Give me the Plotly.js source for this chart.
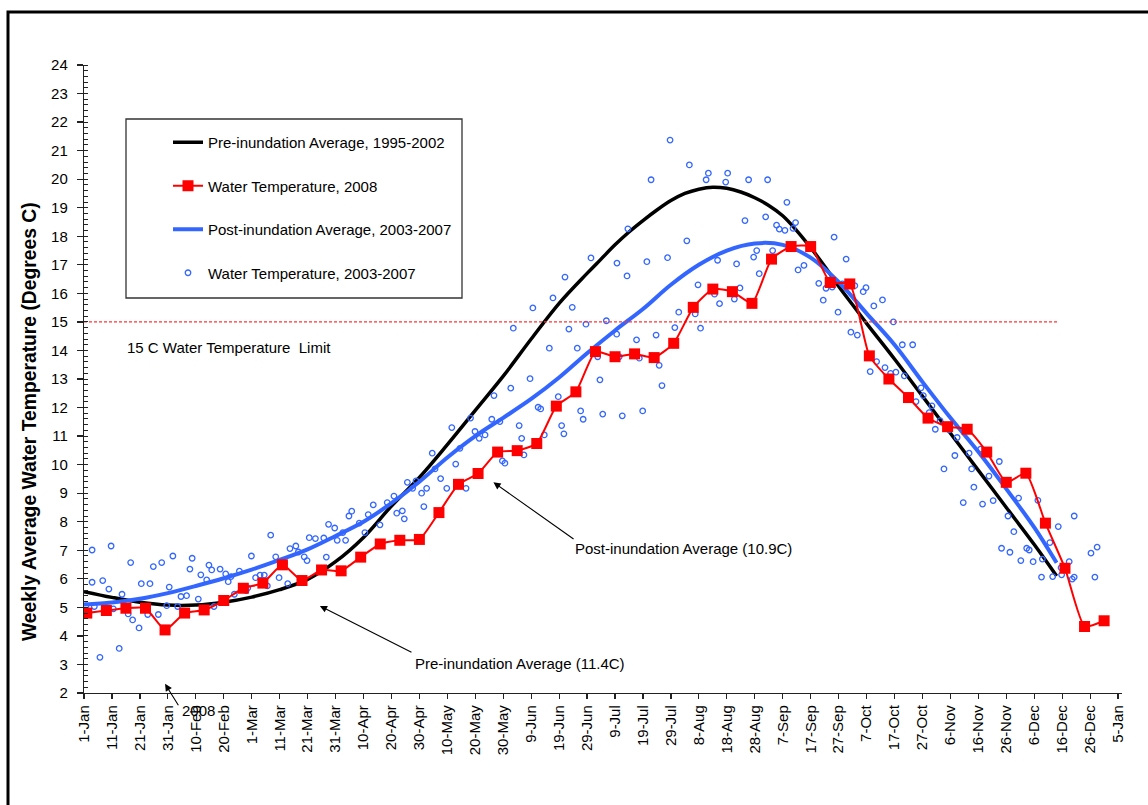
<!DOCTYPE html>
<html><head><meta charset="utf-8">
<script src="https://cdn.plot.ly/plotly-3.0.1.min.js"></script>
<style>html,body{margin:0;padding:0;background:#fff;} #chart{width:1148px;height:805px;}</style>
</head><body><div id="chart"></div>
<script>
// x values are days since 1-Jan-2008
const tickDays = [0,10,20,30,40,50,60,70,80,90,100,110,120,130,140,150,160,170,180,190,200,210,220,230,240,250,260,270,280,290,300,310,320,330,340,350,360,370];
const tickLabels = ['1-Jan','11-Jan','21-Jan','31-Jan','10-Feb','20-Feb','1-Mar','11-Mar','21-Mar','31-Mar','10-Apr','20-Apr','30-Apr','10-May','20-May','30-May','9-Jun','19-Jun','29-Jun','9-Jul','19-Jul','29-Jul','8-Aug','18-Aug','28-Aug','7-Sep','17-Sep','27-Sep','7-Oct','17-Oct','27-Oct','6-Nov','16-Nov','26-Nov','6-Dec','16-Dec','26-Dec','5-Jan'];

const preDays = [0,10,20,30,40,50,60,70,80,90,100,110,120,130,140,150,160,170,180,185,190,195,200,205,210,215,220,225,230,235,240,245,250,255,260,265,270,275,280,290,300,310,320,330,340,348];
const preTemp = [5.55,5.35,5.18,5.08,5.08,5.18,5.36,5.62,5.98,6.6,7.45,8.55,9.55,10.7,11.9,13.1,14.4,15.65,16.7,17.2,17.7,18.15,18.55,18.92,19.25,19.5,19.65,19.72,19.68,19.55,19.35,19.08,18.72,18.2,17.6,16.95,16.25,15.6,14.95,13.7,12.4,11.1,9.8,8.5,7.2,6.1];

const postDays = [0,10,20,30,40,50,60,70,80,90,100,110,120,130,140,150,160,170,180,190,200,210,220,230,240,250,260,270,280,290,300,310,320,330,340,348];
const postTemp = [5.1,5.17,5.3,5.5,5.75,6.02,6.32,6.66,7.03,7.5,8.0,8.65,9.4,10.25,11.0,11.64,12.3,13.05,13.9,14.7,15.45,16.3,17.0,17.5,17.75,17.7,17.25,16.4,15.3,14.2,12.9,11.64,10.45,9.15,7.8,6.56];

const wt2008Days = [1,8,15,22,29,36,43,50,57,64,71,78,85,92,99,106,113,120,127,134,141,148,155,162,169,176,183,190,197,204,211,218,225,232,239,246,253,260,267,274,281,288,295,302,309,316,323,330,337,344,351,358,365];
const wt2008Temp = [4.80,4.89,4.97,4.97,4.21,4.80,4.91,5.24,5.67,5.85,6.49,5.94,6.31,6.28,6.76,7.22,7.35,7.38,8.32,9.31,9.69,10.44,10.49,10.74,12.05,12.55,13.96,13.78,13.88,13.75,14.25,15.51,16.15,16.06,15.65,17.2,17.64,17.64,16.38,16.33,13.81,13.0,12.35,11.63,11.33,11.24,10.44,9.38,9.70,7.95,6.37,4.33,4.53];

const obsDays = [2.9,2.9,0.7,3.7,5.7,6.7,8.9,9.7,10.5,12.6,13.6,15.8,16.7,17.4,19.7,20.5,22.8,23.6,24.8,26.6,27.8,29.6,30.5,31.8,33.5,34.7,36.7,37.9,38.7,40.9,41.8,43.9,44.7,45.7,46.5,48.7,50.7,51.6,52.6,53.8,55.6,58.0,58.6,59.9,61.4,63.0,64.5,65.6,66.8,68.6,69.8,71.7,72.9,73.7,75.8,76.7,78.8,79.8,80.6,82.8,85.8,86.7,87.5,89.7,90.6,92.6,93.6,94.8,95.8,98.5,100.5,101.7,103.5,105.9,
108.5,110.9,111.9,113.9,114.6,115.7,117.6,118.8,120.8,121.6,122.6,124.6,125.6,127.6,129.8,131.6,133.0,134.5,136.7,138.3,139.9,141.4,143.5,145.9,146.7,148.8,149.7,150.6,152.7,153.6,155.7,156.6,157.4,159.6,160.6,162.5,163.4,164.7,166.5,167.8,169.7,170.9,171.7,172.1,173.5,174.7,176.5,177.7,178.6,179.6,181.4,183.8,184.6,185.6,186.9,190.6,190.7,191.5,192.6,194.3,194.6,197.7,198.7,199.9,204.7,205.8,206.8,
209.7,202.9,216.6,223.4,222.6,230.3,229.6,237.8,244.6,251.5,201.4,208.8,215.7,236.5,243.9,247.8,248.8,250.8,253.7,254.6,226.7,233.5,239.6,240.7,246.4,241.6,225.6,219.7,212.8,218.7,220.6,211.4,227.4,232.7,234.7,255.5,257.6,262.9,264.5,265.5,267.7,268.4,269.8,271.4,272.7,274.4,275.8,276.7,278.8,279.8,282.6,285.7,
289.6,283.6,281.3,286.6,288.6,290.5,292.8,296.5,293.5,299.5,297.7,300.3,302.4,303.4,304.6,306.3,309.6,307.7,311.6,312.4,316.7,317.6,318.4,314.6,321.5,320.8,323.8,325.3,327.5,330.6,332.7,334.4,341.3,328.3,331.3,335.2,337.3,338.2,339.6,342.6,342.9,345.6,346.6,348.6,349.6,349.8,352.5,353.6,354.3,354.3,360.3,361.7,362.5];
const obsTemp = [7.01,5.88,5.05,5.03,3.25,5.94,5.64,7.15,4.95,3.56,5.46,4.77,6.57,4.56,4.28,5.83,4.75,5.83,6.43,4.75,6.57,5.06,5.71,6.8,5.03,5.38,5.41,6.34,6.72,5.29,6.14,5.96,6.48,6.31,5.03,6.34,6.17,5.9,6.08,5.46,6.27,5.59,5.68,6.8,6.04,6.13,6.13,5.75,7.53,6.77,6.04,6.55,5.83,7.06,7.15,6.94,6.77,6.64,7.44,7.41,7.43,6.76,7.91,7.78,7.35,7.62,7.35,8.2,8.37,7.95,7.62,8.25,8.59,7.89,
8.67,8.9,8.3,8.38,8.1,9.38,9.17,9.43,9.0,8.53,9.17,10.4,9.85,9.51,9.17,11.3,10.02,10.57,9.17,11.63,11.16,10.92,11.04,11.59,12.42,11.51,10.13,10.05,12.68,14.78,11.37,10.92,10.34,13.01,15.49,12.01,11.95,11.04,14.08,15.84,12.38,11.37,11.08,16.57,14.75,15.51,14.08,11.88,11.59,14.92,17.24,13.78,12.97,11.77,15.04,14.57,17.06,13.78,11.71,16.61,18.26,14.37,13.73,11.88,14.54,13.48,12.77,
21.37,19.98,20.5,20.21,19.98,20.21,19.9,19.98,19.98,19.19,17.11,17.25,17.84,18.55,18.68,18.39,18.25,18.21,18.28,18.48,17.16,17.03,17.27,17.5,17.5,16.69,15.97,16.3,15.34,15.28,14.78,14.8,15.64,15.8,16.19,16.82,16.98,16.35,15.76,16.18,16.22,17.97,15.34,16.33,17.2,14.64,16.27,14.54,16.06,16.2,15.56,15.77,
15.0,13.61,13.26,13.4,13.2,13.24,14.2,14.2,13.11,12.69,12.21,12.42,11.82,12.06,11.24,11.54,11.22,9.85,10.32,10.95,10.4,9.85,9.21,8.67,8.62,10.54,9.6,8.74,10.11,8.2,7.65,8.83,8.75,7.07,6.93,6.64,7.07,7.01,6.6,6.06,6.69,7.27,6.08,7.83,6.39,6.14,6.6,5.99,6.06,8.2,6.9,6.06,7.11];

const limitDays = [0, 348.5];
const limitTemp = [15, 15];

const FONT = 'Liberation Sans, Arial, Helvetica, sans-serif';
const BLUE = '#3366FF';

const traces = [
  {x: preDays, y: preTemp, type:'scatter', mode:'lines', name:'Pre-inundation Average, 1995-2002',
   line:{color:'#000000', width:3.5, shape:'spline', smoothing:1}, legendgroup:'g1', legendrank:1},
  {x: postDays, y: postTemp, type:'scatter', mode:'lines', name:'Post-inundation Average, 2003-2007',
   line:{color:BLUE, width:4, shape:'spline', smoothing:1}, legendgroup:'g3', legendrank:3},
  {x: obsDays, y: obsTemp, type:'scatter', mode:'markers', name:'Water Temperature, 2003-2007',
   marker:{symbol:'circle-open', size:5.5, color:BLUE, line:{color:BLUE, width:1.3}}, legendgroup:'g4', legendrank:4},
  {x: limitDays, y: limitTemp, type:'scatter', mode:'lines', showlegend:false, hoverinfo:'skip',
   line:{color:'#FF3333', width:1.2, dash:'3px,2px'}},
  {x: wt2008Days, y: wt2008Temp, type:'scatter', mode:'lines+markers', name:'Water Temperature, 2008',
   line:{color:'#FF0000', width:2, shape:'spline', smoothing:0.5},
   marker:{symbol:'square', size:11, color:'#FF0000'}, legendgroup:'g2', legendrank:2}
];

const W = 1038, H = 628, L = 84, T = 65;
function px(xp){ return (xp - L) / W; }
function py(yp){ return (T + H - yp) / H; }

const layout = {
  width:1148, height:805,
  margin:{l:84, r:26, t:65, b:112},
  paper_bgcolor:'#ffffff', plot_bgcolor:'#ffffff',
  font:{family:FONT, size:15, color:'#000'},
  showlegend:true,
  legend:{x:px(168), xanchor:'left', y:py(126), yanchor:'top', bgcolor:'rgba(0,0,0,0)', borderwidth:0,
    font:{family:FONT, size:15, color:'#000'}, traceorder:'grouped', tracegroupgap:21, itemwidth:30},
  xaxis:{range:[0,371.4], tickmode:'array', tickvals:tickDays, ticktext:tickLabels, tickangle:-90,
    showgrid:false, zeroline:false, showline:true, linecolor:'#222', linewidth:1.2,
    ticks:'outside', ticklen:5, tickcolor:'#222', tickwidth:1.2,
    tickfont:{family:FONT, size:15, color:'#000'}},
  yaxis:{range:[2,24], tickmode:'linear', tick0:2, dtick:1,
    showgrid:false, zeroline:false, showline:true, linecolor:'#222', linewidth:1.2,
    ticks:'outside', ticklen:6, tickcolor:'#222', tickwidth:1.2, ticklabelstandoff:6,
    minor:{dtick:0.2, ticks:'inside', ticklen:4, tickcolor:'#222', tickwidth:1, showgrid:false},
    tickfont:{family:FONT, size:15, color:'#000'}},
  shapes:[
    {type:'rect', xref:'paper', yref:'paper', x0:px(8), x1:px(1170), y0:py(830), y1:py(12),
     line:{color:'#000', width:3}, fillcolor:'rgba(0,0,0,0)', layer:'below'},
    {type:'rect', xref:'paper', yref:'paper', x0:px(126), x1:px(462), y0:py(298), y1:py(119),
     line:{color:'#333', width:1.3}, fillcolor:'rgba(0,0,0,0)'}
  ],
  annotations:[
    {xref:'paper', yref:'paper', x:px(30), y:py(422), text:'<b>Weekly Average Water Temperature (Degrees C)</b>',
     textangle:-90, showarrow:false, xanchor:'center', yanchor:'middle', font:{family:FONT, size:19.3, color:'#000'}},
    {xref:'paper', yref:'paper', x:px(125), y:py(347), text:'15 C Water Temperature  Limit', showarrow:false,
     xanchor:'left', yanchor:'middle', font:{family:FONT, size:15, color:'#000'}},
    {xref:'paper', yref:'paper', x:px(573), y:py(548), text:'Post-inundation Average (10.9C)', showarrow:false,
     xanchor:'left', yanchor:'middle', font:{family:FONT, size:15, color:'#000'}},
    {xref:'paper', yref:'paper', x:px(413), y:py(663), text:'Pre-inundation Average (11.4C)', showarrow:false,
     xanchor:'left', yanchor:'middle', font:{family:FONT, size:15, color:'#000'}},
    {xref:'paper', yref:'paper', x:px(180), y:py(710), text:'2008', showarrow:false,
     xanchor:'left', yanchor:'middle', font:{family:FONT, size:15, color:'#000'}},
    {x:146.5, y:9.38, xref:'x', yref:'y', ax:175.7, ay:7.36, axref:'x', ayref:'y', text:'', showarrow:true,
     arrowhead:2, arrowsize:1.3, arrowwidth:1.1, arrowcolor:'#000'},
    {x:84.4, y:5.05, xref:'x', yref:'y', ax:117.7, ay:3.4, axref:'x', ayref:'y', text:'', showarrow:true,
     arrowhead:2, arrowsize:1.3, arrowwidth:1.1, arrowcolor:'#000'},
    {x:29.0, y:2.32, xref:'x', yref:'y', ax:34.1, ay:1.52, axref:'x', ayref:'y', text:'', showarrow:true,
     arrowhead:2, arrowsize:1.3, arrowwidth:1.1, arrowcolor:'#000'}
  ]
};

Plotly.newPlot('chart', traces, layout, {displayModeBar:false, staticPlot:true});
</script>
</body></html>
